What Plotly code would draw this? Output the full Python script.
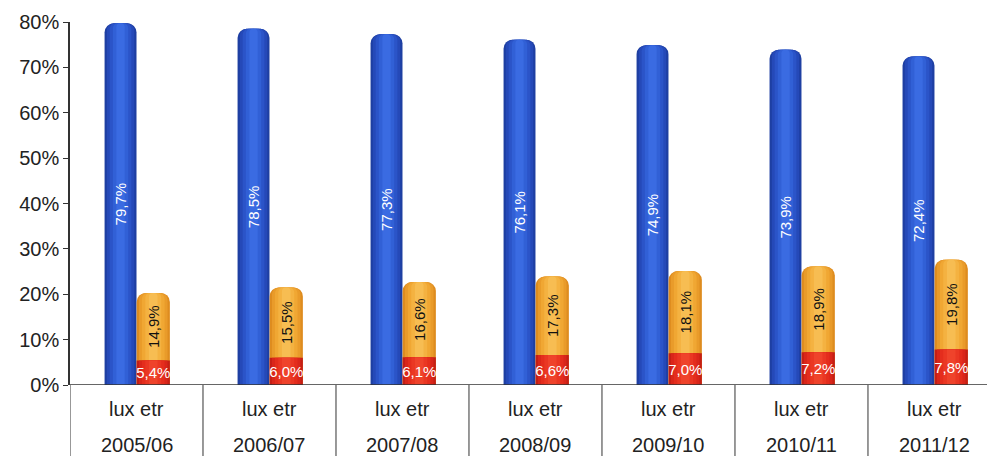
import plotly.graph_objects as go

years = ["2005/06", "2006/07", "2007/08", "2008/09", "2009/10", "2010/11", "2011/12"]
sub_label = "lux etr"
lux = [79.7, 78.5, 77.3, 76.1, 74.9, 73.9, 72.4]
etr_red = [5.4, 6.0, 6.1, 6.6, 7.0, 7.2, 7.8]
etr_orange = [14.9, 15.5, 16.6, 17.3, 18.1, 18.9, 19.8]
y_ticks = [0, 10, 20, 30, 40, 50, 60, 70, 80]

def fmt(v):
    return f"{v:.1f}%".replace(".", ",")

idx = list(range(len(years)))
etr_total = [r + o for r, o in zip(etr_red, etr_orange)]
FONT = "Liberation Sans, Arial, sans-serif"

BLUE_C, BLUE_W = -0.12, 0.24
ETR_C, ETR_W = 0.126, 0.25

fig = go.Figure()

FRACS = [1.0, 0.86, 0.68, 0.48, 0.26]

def cylinder(y, center, width, colors, radius, base=None):
    # layered bars: dark edge to light centre, mimicking a cylinder
    for k, (f, col) in enumerate(zip(FRACS, colors)):
        w = width * f
        rr = radius * (1.0 - 0.12 * k)
        fig.add_trace(go.Bar(
            x=idx, y=y, base=base, offset=center - w / 2, width=w,
            marker=dict(color=col, line=dict(width=0), cornerradius=rr),
            hoverinfo="skip", showlegend=False))

# lux bars
cylinder(lux, BLUE_C, BLUE_W, ["#1e3fa2", "#2549b8", "#2b54c8", "#3160d6", "#3a6be2"], 9)
# etr total (orange) then red bottom on top of it
cylinder(etr_total, ETR_C, ETR_W, ["#de8c1f", "#e99b2a", "#f0a733", "#f4b241", "#f7bd52"], 9)
cylinder(etr_red, ETR_C, ETR_W, ["#c51f15", "#d9261a", "#e42d1d", "#ea3723", "#ef432b"], 0)

def labels(y, center, width, base, angle, color):
    fig.add_trace(go.Bar(
        x=idx, y=y, base=base, offset=center - width / 2, width=width,
        marker=dict(color="rgba(0,0,0,0)", line=dict(width=0)),
        text=[fmt(v) for v in y], textposition="inside", insidetextanchor="middle",
        textangle=angle, constraintext="none",
        textfont=dict(color=color, size=15, family=FONT),
        hoverinfo="skip", showlegend=False))

labels(lux, BLUE_C, BLUE_W, None, -90, "white")
labels(etr_red, ETR_C, ETR_W, None, 0, "white")
labels(etr_orange, ETR_C, ETR_W, etr_red, -90, "#111111")

# category labels and separators
for i, yr in enumerate(years):
    fig.add_annotation(x=i, y=-0.066, xref="x", yref="paper", text=sub_label,
                       showarrow=False, font=dict(size=20, color="#222", family=FONT),
                       yanchor="middle")
    fig.add_annotation(x=i, y=-0.165, xref="x", yref="paper", text=yr,
                       showarrow=False, font=dict(size=20, color="#222", family=FONT),
                       yanchor="middle")
for i in range(len(years) + 1):
    fig.add_shape(type="line", x0=i - 0.5, x1=i - 0.5, y0=0, y1=-0.25,
                  xref="x", yref="paper", line=dict(color="#333", width=1))

fig.update_layout(
    width=987, height=456,
    margin=dict(l=70, r=0, t=22, b=71, autoexpand=False),
    barmode="overlay",
    plot_bgcolor="white", paper_bgcolor="white",
    xaxis=dict(range=[-0.5, 6.395], showticklabels=False, showgrid=False,
               zeroline=False, showline=False, ticks=""),
    yaxis=dict(range=[0, 80], tickvals=y_ticks, ticktext=[f"{v}%" for v in y_ticks],
               showgrid=False, automargin=False,
               zeroline=False, showline=True, linecolor="#333", linewidth=1.5,
               ticks="outside", ticklen=5, tickcolor="#333",
               tickfont=dict(size=20, color="#222", family=FONT)),
)
fig.add_shape(type="line", x0=0, x1=1, y0=0, y1=0, xref="paper", yref="y",
              line=dict(color="#333", width=1.5))
fig.write_html("out.html", config={"displayModeBar": False},
               post_script="document.body.style.margin='0px';document.body.style.overflow='hidden';")
